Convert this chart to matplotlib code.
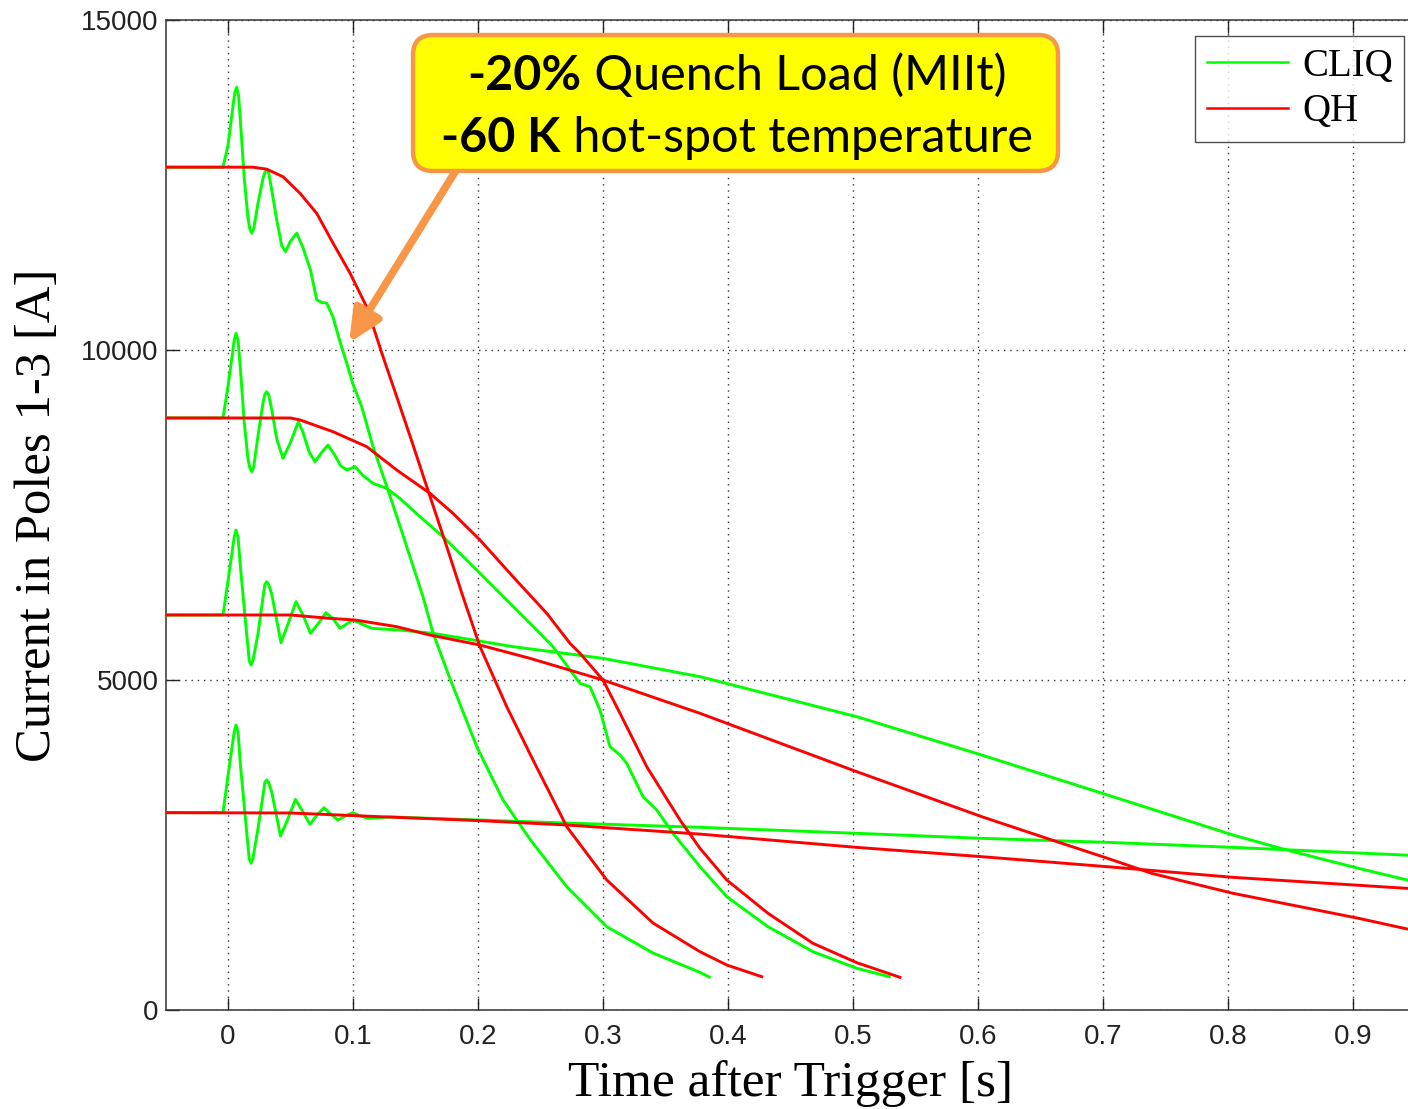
import matplotlib
matplotlib.use("Agg")
import matplotlib.pyplot as plt
from matplotlib.patches import FancyBboxPatch

# --- data (time [s], current [A]) ---
# CLIQ runs, four initial currents
t_cliq_1 = [-0.05, -0.004, 0.0, 0.004, 0.0055, 0.007, 0.0085, 0.010, 0.013, 0.016,
            0.0175, 0.019, 0.0205, 0.024, 0.028, 0.0295, 0.031, 0.0325, 0.035, 0.039,
            0.043, 0.046, 0.050, 0.055, 0.060, 0.066, 0.071, 0.075, 0.079, 0.084,
            0.090, 0.095, 0.100, 0.107, 0.116, 0.128, 0.143, 0.156, 0.164, 0.178,
            0.199, 0.220, 0.242, 0.271, 0.303, 0.340, 0.3776, 0.385]
i_cliq_1 = [12770, 12770, 13100, 13700, 13900, 13980, 13850, 13450, 12600, 12000,
            11830, 11770, 11830, 12225, 12600, 12690, 12730, 12690, 12420, 11970,
            11580, 11490, 11650, 11770, 11550, 11210, 10760, 10720, 10710, 10500,
            10100, 9800, 9480, 9140, 8535, 7880, 7020, 6262, 5712, 5000,
            3990, 3182, 2576, 1868, 1262, 863, 570, 500]

t_cliq_2 = [-0.05, -0.004, 0.0, 0.005, 0.0064, 0.008, 0.010, 0.013, 0.016, 0.0175,
            0.019, 0.0205, 0.024, 0.028, 0.0295, 0.031, 0.0325, 0.035, 0.039, 0.044,
            0.050, 0.0563, 0.060, 0.065, 0.0696, 0.075, 0.080, 0.085, 0.090, 0.095,
            0.1016, 0.108, 0.116, 0.127, 0.1376, 0.1536, 0.172, 0.199, 0.2256, 0.247,
            0.260, 0.2816, 0.2896, 0.2976, 0.3056, 0.3136, 0.319, 0.332, 0.343, 0.356,
            0.3776, 0.399, 0.432, 0.468, 0.503, 0.529]
i_cliq_2 = [8970, 8970, 9450, 10150, 10253, 10150, 9700, 8900, 8350, 8210,
            8156, 8220, 8700, 9200, 9330, 9368, 9320, 9100, 8650, 8358,
            8600, 8914, 8750, 8450, 8307, 8450, 8560, 8420, 8250, 8181,
            8232, 8100, 7980, 7904, 7750, 7474, 7171, 6666, 6162, 5757,
            5505, 4949, 4898, 4545, 3990, 3863, 3737, 3232, 3030, 2677,
            2171, 1717, 1262, 883, 632, 505]

t_cliq_3 = [-0.05, -0.004, 0.0, 0.005, 0.0064, 0.008, 0.010, 0.0135, 0.017, 0.0184,
            0.020, 0.024, 0.028, 0.0295, 0.031, 0.0325, 0.035, 0.0424, 0.048, 0.0544,
            0.060, 0.066, 0.072, 0.0784, 0.084, 0.0896, 0.095, 0.100, 0.108, 0.115,
            0.1376, 0.164, 0.228, 0.300, 0.3776, 0.503, 0.603, 0.7037, 0.804, 0.847,
            0.9045, 0.95]
i_cliq_3 = [5985, 5985, 6500, 7170, 7272, 7170, 6700, 5985, 5290, 5227,
            5300, 5700, 6250, 6450, 6489, 6450, 6300, 5565, 5850, 6186,
            5985, 5707, 5850, 6019, 5930, 5783, 5850, 5909, 5840, 5783,
            5757, 5707, 5505, 5328, 5050, 4444, 3863, 3257, 2651, 2424,
            2146, 1940]

t_cliq_4 = [-0.05, -0.004, 0.0, 0.005, 0.0064, 0.008, 0.010, 0.0135, 0.017, 0.0184,
            0.020, 0.024, 0.028, 0.0295, 0.031, 0.0325, 0.035, 0.042, 0.048, 0.054,
            0.060, 0.0656, 0.071, 0.0768, 0.082, 0.088, 0.094, 0.0998, 0.106, 0.112,
            0.130, 0.271, 0.3776, 0.503, 0.603, 0.7037, 0.804, 0.95]
i_cliq_4 = [2990, 2990, 3550, 4220, 4318, 4220, 3700, 2990, 2290, 2222,
            2300, 2750, 3250, 3450, 3485, 3450, 3300, 2636, 2900, 3192,
            3000, 2813, 2950, 3065, 2970, 2878, 2940, 2990, 2940, 2904,
            2925, 2833, 2768, 2677, 2601, 2540, 2464, 2340]

# quench heater runs
t_qh_1 = [-0.05, 0.020, 0.031, 0.044, 0.0576, 0.071, 0.084, 0.0976, 0.111, 0.124, 0.135, 0.147,
          0.159, 0.175, 0.188, 0.2016, 0.223, 0.244, 0.271, 0.303, 0.340, 0.3776, 0.399, 0.427]
i_qh_1 = [12770, 12770, 12740, 12625, 12375, 12070, 11620, 11165, 10650, 9900, 9290, 8620,
          7930, 7020, 6262, 5505, 4595, 3788, 2777, 1970, 1318, 883, 682, 505]

t_qh_2 = [-0.05, 0.050, 0.0576, 0.084, 0.111, 0.135, 0.1616, 0.180, 0.2016, 0.228, 0.255,
          0.2736, 0.2816, 0.300, 0.3136, 0.335, 0.3616, 0.3776, 0.399, 0.432, 0.468, 0.503, 0.5376]
i_qh_2 = [8970, 8970, 8940, 8762, 8535, 8181, 7828, 7525, 7121, 6565, 6010,
          5555, 5404, 5000, 4495, 3686, 2879, 2449, 1970, 1465, 1010, 717, 495]

t_qh_3 = [-0.05, 0.050, 0.0816, 0.1016, 0.135, 0.1616, 0.2016, 0.2416, 0.300, 0.3776, 0.503, 0.603,
          0.659, 0.7037, 0.739, 0.804, 0.9045, 0.95]
i_qh_3 = [5985, 5985, 5934, 5909, 5808, 5681, 5530, 5328, 5000, 4495, 3611, 2929,
          2576, 2298, 2070, 1768, 1389, 1200]

t_qh_4 = [-0.05, 0.050, 0.1216, 0.200, 0.271, 0.3776, 0.503, 0.603, 0.7037, 0.804, 0.95]
i_qh_4 = [2990, 2985, 2929, 2870, 2803, 2665, 2464, 2323, 2171, 2010, 1835]

x_ticks = [0, 0.1, 0.2, 0.3, 0.4, 0.5, 0.6, 0.7, 0.8, 0.9]
x_tick_labels = ['0', '0.1', '0.2', '0.3', '0.4', '0.5', '0.6', '0.7', '0.8', '0.9']
y_ticks = [0, 5000, 10000, 15000]
y_tick_labels = ['0', '5000', '10000', '15000']

GREEN = '#00FF00'
RED = '#FF0000'
ORANGE = '#F79646'

fig = plt.figure(figsize=(14.08, 11.09), dpi=100)
ax = fig.add_axes([165.5 / 1408, 99 / 1109, 1250 / 1408, 990 / 1109])

cliq = [(t_cliq_1, i_cliq_1), (t_cliq_2, i_cliq_2), (t_cliq_3, i_cliq_3), (t_cliq_4, i_cliq_4)]
qh = [(t_qh_1, i_qh_1), (t_qh_2, i_qh_2), (t_qh_3, i_qh_3), (t_qh_4, i_qh_4)]

for k, (t, i) in enumerate(cliq):
    ax.plot(t, i, color=GREEN, lw=2.1, label='CLIQ' if k == 0 else None, zorder=3,
            solid_joinstyle='round')
for k, (t, i) in enumerate(qh):
    ax.plot(t, i, color=RED, lw=2.1, label='QH' if k == 0 else None, zorder=4,
            solid_joinstyle='round')

ax.set_xlim(-0.05, 0.95)
ax.set_ylim(0, 15000)
ax.set_xticks(x_ticks)
ax.set_xticklabels(x_tick_labels, fontsize=20, family='Liberation Sans')
ax.set_yticks(y_ticks)
ax.set_yticklabels(y_tick_labels, fontsize=20, family='Liberation Sans')
ax.tick_params(direction='in', top=True, length=9, width=1.0, colors='#222222')
ax.tick_params(axis='x', pad=10)
ax.tick_params(axis='y', pad=5)
for s in ax.spines.values():
    s.set_linewidth(1.1)
    s.set_color('#333333')

ax.grid(True, color='#333333', lw=1.0, linestyle=(0, (1, 3.5)))
ax.set_axisbelow(True)

ax.set_xlabel('Time after Trigger [s]', fontsize=37, family='Liberation Serif', va='center')
ax.xaxis.set_label_coords(0.5, -0.0745)
ax.set_ylabel('Current in Poles 1-3 [A]', fontsize=36.5, family='Liberation Serif', va='center')
ax.yaxis.set_label_coords((38 - 165.5) / 1250, 0.5)

leg = ax.legend(loc='upper left', bbox_to_anchor=((1195 - 165.5) / 1250, (1010 - 36) / 990),
                prop={'family': 'Liberation Serif', 'size': 28}, frameon=True, fancybox=False,
                handlelength=2.1, handletextpad=0.35, borderpad=0.3, labelspacing=0.22,
                borderaxespad=0)
leg.get_frame().set_edgecolor('#222222')
leg.get_frame().set_linewidth(1.0)
for ln in leg.get_lines():
    ln.set_linewidth(1.8)

# callout box (pixel layout converted to inches)
box = FancyBboxPatch((413 / 100, (1109 - 171) / 100), (1058 - 413) / 100, (171 - 35) / 100,
                     boxstyle='round,pad=0,rounding_size=0.2', transform=fig.dpi_scale_trans,
                     facecolor='#FFFF00', edgecolor=ORANGE, lw=3.2, zorder=10)
fig.patches.append(box)

ax.annotate('', xy=(0.0968, 10106), xytext=(0.1816, 12697),
            arrowprops=dict(arrowstyle='-|>,head_length=1.4,head_width=0.65', lw=5.5,
                            color=ORANGE, shrinkA=0, shrinkB=0, mutation_scale=14),
            zorder=9, annotation_clip=False)

lines = [[('-20%', 'bold'), (' Quench Load (MIIt)', 'normal')],
         [('-60 K', 'bold'), (' hot-spot temperature', 'normal')]]
baselines = [90, 151.7]
center_x = 737
fs = 34
font = 'Lato'

objs = []
for row, base in zip(lines, baselines):
    row_objs = []
    for txt, w in row:
        o = fig.text(0, (1109 - base) / 100, txt, transform=fig.dpi_scale_trans, fontsize=fs,
                     family=font, weight=w, ha='left', va='baseline', zorder=11)
        row_objs.append(o)
    objs.append(row_objs)

fig.canvas.draw()
r = fig.canvas.get_renderer()
w2 = sum(o.get_window_extent(r).width for o in objs[1])
fs_new = fs * 593 / w2
for row_objs in objs:
    for o in row_objs:
        o.set_fontsize(fs_new)
fig.canvas.draw()
for row_objs in objs:
    widths = [o.get_window_extent(r).width for o in row_objs]
    x = center_x - sum(widths) / 2
    for o, w in zip(row_objs, widths):
        o.set_x(x / 100)
        x += w

fig.savefig('out.png', dpi=100)
